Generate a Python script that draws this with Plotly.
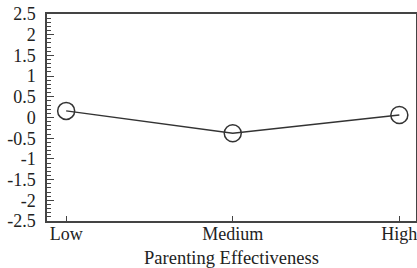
import plotly.graph_objects as go

categories = ["Low", "Medium", "High"]
values = [0.16, -0.38, 0.06]
y_ticks = [2.5, 2, 1.5, 1, 0.5, 0, -0.5, -1, -1.5, -2, -2.5]
y_tick_labels = ["2.5", "2", "1.5", "1", "0.5", "0", "-0.5", "-1", "-1.5", "-2", "-2.5"]

fig = go.Figure()
fig.add_trace(go.Scatter(
    x=list(range(len(categories))), y=values, mode="lines+markers",
    line=dict(color="#333333", width=1.5),
    marker=dict(symbol="circle-open", size=17, color="#333333", line=dict(width=1.5)),
    showlegend=False,
))

font = dict(family="Liberation Serif, Times New Roman, serif", size=18, color="#222222")
fig.update_layout(
    width=417, height=268,
    margin=dict(l=47, r=1, t=14, b=47),
    paper_bgcolor="white", plot_bgcolor="white",
    font=font,
)
fig.update_xaxes(
    range=[-0.115, 2.1], automargin=False, ticklabeloverflow="allow",
    tickmode="array", tickvals=list(range(len(categories))), ticktext=categories,
    tickfont=dict(size=18), ticklabelstandoff=-4,
    ticks="inside", ticklen=5, tickcolor="#444444",
    showline=True, linecolor="#444444", linewidth=1.5, mirror=True,
    showgrid=False, zeroline=False,
    title=dict(text="Parenting Effectiveness", font=dict(size=18.5)),
)
fig.update_yaxes(
    range=[-2.5, 2.5], automargin=False, ticklabeloverflow="allow",
    tickmode="array", tickvals=y_ticks, ticktext=y_tick_labels,
    tickfont=dict(size=18), ticklabelstandoff=6,
    ticks="inside", ticklen=7, tickcolor="#444444",
    minor=dict(dtick=0.1, ticks="inside", ticklen=4, tickcolor="#444444", showgrid=False),
    showline=True, linecolor="#444444", linewidth=1.5, mirror=True,
    showgrid=False, zeroline=False,
)
fig.write_html("out.html", config={"displayModeBar": False},
               post_script="document.body.style.margin='0';document.body.style.padding='0';")
